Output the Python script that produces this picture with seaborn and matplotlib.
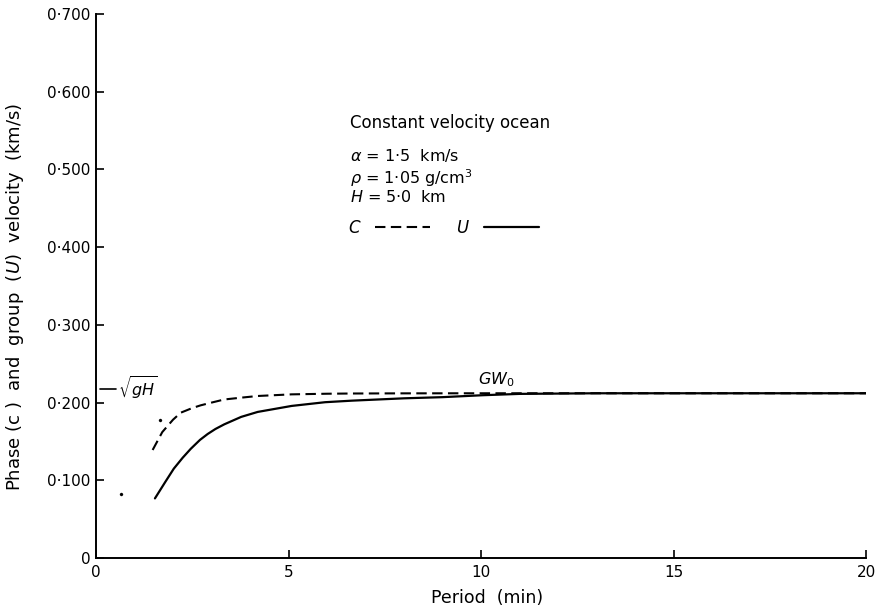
import numpy as np
import pandas as pd
import matplotlib
matplotlib.use("Agg")
import matplotlib.pyplot as plt
import seaborn as sns

# ---- data ----
period_c = [1.47, 1.72, 2.0, 2.2, 2.5, 2.72, 3.0, 3.33, 3.8, 4.2, 5.08, 6.0, 6.65, 8.0, 10.0, 12.0, 15.0, 20.0]
phase_c = [0.139, 0.162, 0.178, 0.187, 0.193, 0.1965, 0.200, 0.204, 0.2065, 0.2085, 0.2106, 0.2114, 0.2117, 0.2119, 0.212, 0.212, 0.212, 0.212]

period_u = [1.53, 1.8, 2.02, 2.25, 2.46, 2.7, 2.9, 3.1, 3.33, 3.77, 4.2, 5.08, 5.95, 6.65, 8.0, 9.0, 10.05, 11.0, 13.0, 20.0]
group_u = [0.0767, 0.098, 0.115, 0.129, 0.1405, 0.152, 0.1596, 0.166, 0.172, 0.1816, 0.188, 0.1957, 0.2005, 0.2025, 0.2055, 0.207, 0.2095, 0.2112, 0.212, 0.212]

speck_x = [0.65, 1.65]
speck_y = [0.083, 0.177]

sqrt_gh = 0.218

xticks = [0, 5, 10, 15, 20]
yticks = [0, 0.1, 0.2, 0.3, 0.4, 0.5, 0.6, 0.7]
ytick_labels = ["0", "0·100", "0·200", "0·300", "0·400", "0·500", "0·600", "0·700"]

info_lines = ["Constant velocity ocean",
              r"$\alpha$ = 1·5  km/s",
              r"$\rho$ = 1·05 g/cm$^3$",
              r"$H$ = 5·0  km"]
info_y = [0.560, 0.518, 0.489, 0.465]

# ---- plotting ----
sns.set_theme(style="white")
plt.rcParams['font.family'] = ['DejaVu Sans']
plt.rcParams['mathtext.fontset'] = 'dejavusans'
plt.rcParams['text.color'] = 'black'
plt.rcParams['axes.labelcolor'] = 'black'
plt.rcParams['xtick.color'] = 'black'
plt.rcParams['ytick.color'] = 'black'

fig = plt.figure(figsize=(8.77, 6.13), dpi=100)
ax = fig.add_axes([0.1095, 0.0897, 0.878, 0.8874])

df_c = pd.DataFrame({"period": period_c, "v": phase_c})
df_u = pd.DataFrame({"period": period_u, "v": group_u})

sns.lineplot(data=df_c, x="period", y="v", ax=ax, color="black", lw=1.5,
             linestyle=(0, (5, 2.6)), label="$C$", sort=False)
sns.lineplot(data=df_u, x="period", y="v", ax=ax, color="black", lw=1.6,
             label="$U$", sort=False)
sns.scatterplot(x=speck_x, y=speck_y, ax=ax, color="black", s=5, edgecolor=None)

# sqrt(gH) marker
ax.plot([0.1, 0.52], [sqrt_gh, sqrt_gh], color="black", lw=1.2, clip_on=False)
ax.text(0.58, sqrt_gh, r"$\sqrt{gH}$", fontsize=11.5, va="center", ha="left")

ax.text(10.4, 0.229, r"$GW_0$", fontsize=11.5, va="center", ha="center")

for t, y in zip(info_lines, info_y):
    ax.text(6.6, y, t, fontsize=12 if t.startswith("Const") else 11.5,
            va="center", ha="left")

leg = ax.legend(loc="center left", bbox_to_anchor=(0.327, 0.607), frameon=False,
                ncol=2, markerfirst=False, handlelength=3.3, handletextpad=0.8,
                columnspacing=1.6, borderpad=0, borderaxespad=0, fontsize=12)

ax.set_xlim(0, 20)
ax.set_ylim(0, 0.7)
ax.set_xticks(xticks)
ax.set_xticklabels([str(v) for v in xticks])
ax.set_yticks(yticks)
ax.set_yticklabels(ytick_labels)

for s in ["top", "right"]:
    ax.spines[s].set_visible(False)
for s in ["left", "bottom"]:
    ax.spines[s].set_color("black")
    ax.spines[s].set_linewidth(1.4)

ax.tick_params(axis="both", direction="in", length=6, width=1.2, colors="black",
               labelsize=11, left=True, bottom=True)
ax.tick_params(axis="x", pad=5)
ax.tick_params(axis="y", pad=4)

ax.set_xlabel("Period  (min)", fontsize=12.5)
ax.set_ylabel(r"Phase (c )  and  group  ($U$)  velocity  (km/s)", fontsize=13)
ax.xaxis.set_label_coords(0.508, -0.057)
ax.yaxis.set_label_coords(-0.091, 0.48)

fig.savefig("out.png", dpi=100, facecolor="white")
